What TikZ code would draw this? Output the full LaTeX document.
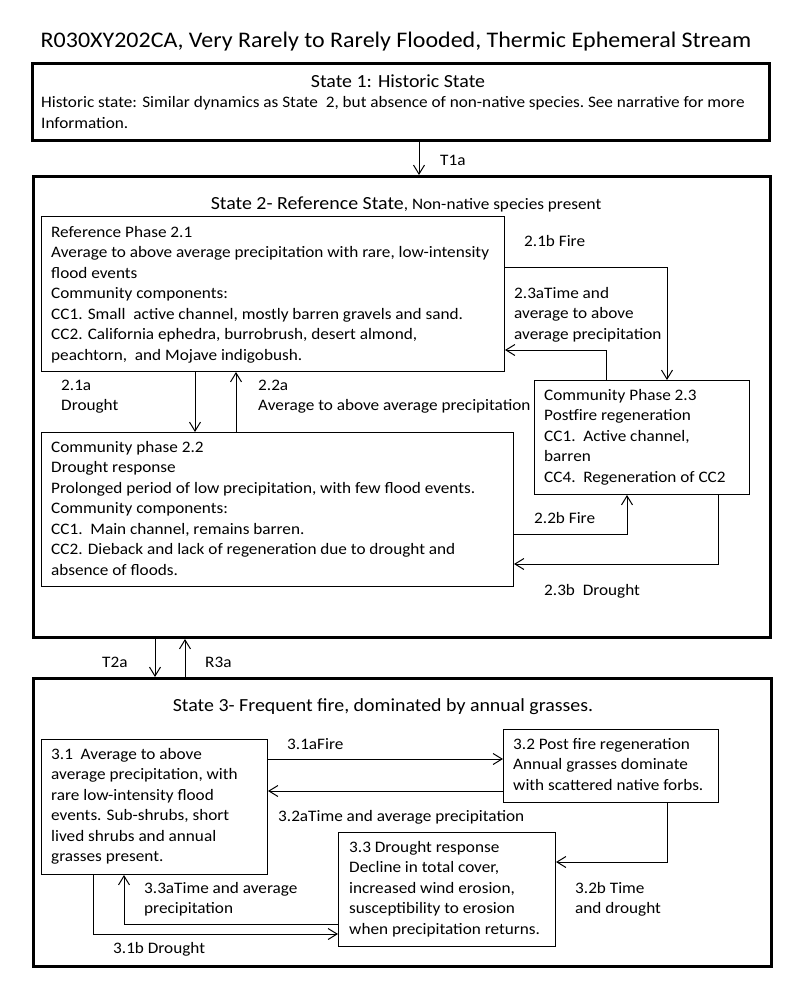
\documentclass[tikz,border=0pt]{standalone}
\usepackage{fontspec}
\setmainfont{Carlito}[FakeStretch=1.075]
\usetikzlibrary{arrows.meta}
\tikzset{
  sbox/.style={draw, line width=3pt, anchor=north west, inner sep=0pt},
  pbox/.style={draw, line width=1pt, anchor=north west, inner sep=0pt},
  txt/.style={inner sep=0pt, anchor=north west, align=left, font=\fontsize{16}{20.5}\selectfont},
  lbl/.style={inner sep=0pt, anchor=north west, align=left, font=\fontsize{16}{20.5}\selectfont},
  head/.style={inner sep=0pt, anchor=base, font=\fontsize{18.5}{22}\selectfont},
  arr/.style={line width=1pt, -{Straight Barb[length=9pt,width=11pt,line width=1pt]}},
}
\newcommand{\fs}{\strut}
\begin{document}
\begin{tikzpicture}[x=1pt,y=-1pt]
\useasboundingbox (0,0) rectangle (800,985);
% Title
\node[inner sep=0pt, anchor=base, font=\fontsize{22.3}{26}\selectfont] (title) at (396,47.5) {R030XY202CA, Very Rarely to Rarely Flooded, Thermic Ephemeral Stream};
% State boxes
\node[sbox, minimum width=737pt, minimum height=77pt] (s1) at (31,62) {};
\node[sbox, minimum width=737pt, minimum height=461pt] (s2) at (32,175) {};
\node[sbox, minimum width=738pt, minimum height=288pt] (s3) at (32,677) {};
% State 1 contents
\node[head] (s1h) at (398,87) {State 1: Historic State};
\node[txt] (s1t) at (41,{107.5-14.35}) {\fs Historic state: Similar dynamics as State\ \ 2, but absence of non-native species.\ See narrative for more\\Information.};
% State 2 heading
\node[inner sep=0pt, anchor=base] (s2h) at (406,209) {\fontsize{18.5}{22}\selectfont State 2- Reference State\fontsize{16}{20}\selectfont, Non-native species present};
% Phase boxes state 2
\node[pbox, minimum width=463pt, minimum height=155pt] (p21) at (41,216) {};
\node[pbox, minimum width=472pt, minimum height=154pt] (p22) at (41,432) {};
\node[pbox, minimum width=215pt, minimum height=114pt] (p23) at (534,380) {};
\node[txt] (p21t) at (51,{237-14.35}) {\fs Reference Phase 2.1\\Average to above average precipitation with rare, low-intensity\\flood events\\Community components:\\CC1. Small\ \ active channel, mostly barren gravels and sand.\\CC2. California ephedra, burrobrush, desert almond,\\peachtorn,\ \ and Mojave indigobush.};
\node[txt] (p22t) at (51,{452-14.35}) {\fs Community phase 2.2\\Drought response\\Prolonged period of low precipitation, with few flood events.\\Community components:\\CC1.\ \ Main channel, remains barren.\\CC2. Dieback and lack of regeneration due to drought and\\absence of floods.};
\node[txt] (p23t) at (544,{400-14.35}) {\fs Community Phase 2.3\\Postfire regeneration\\CC1.\ \ Active channel,\\barren\\CC4.\ \ Regeneration of CC2};
% State 2 labels
\node[lbl] (l21b) at (524,{246-14.35}) {\fs 2.1b Fire};
\node[lbl] (l23a) at (514,{298-14.35}) {\fs 2.3aTime and\\average to above\\average precipitation};
\node[lbl] (l21a) at (61,{390-14.35}) {\fs 2.1a\\Drought};
\node[lbl] (l22a) at (258,{390-14.35}) {\fs 2.2a\\Average to above average precipitation};
\node[lbl] (l22b) at (534,{523-14.35}) {\fs 2.2b Fire};
\node[lbl] (l23b) at (544,{595-14.35}) {\fs 2.3b\ \ Drought};
% Transition labels
\node[lbl] (lt1a) at (440,{165-14.35}) {\fs T1a};
\node[lbl] (lt2a) at (102,{667-14.35}) {\fs T2a};
\node[lbl] (lr3a) at (205,{667-14.35}) {\fs R3a};
% State 3
\node[head] (s3h) at (383,711) {State 3- Frequent fire, dominated by annual grasses.};
\node[pbox, minimum width=226pt, minimum height=135pt] (p31) at (41,739) {};
\node[pbox, minimum width=215pt, minimum height=73pt] (p32) at (503,729) {};
\node[pbox, minimum width=217pt, minimum height=114pt] (p33) at (338,832) {};
\node[txt] (p31t) at (51,{759-14.35}) {\fs 3.1\ \ Average to above\\average precipitation, with\\rare low-intensity flood\\events. Sub-shrubs, short\\lived shrubs and annual\\grasses present.};
\node[txt] (p32t) at (513,{749-14.35}) {\fs 3.2 Post fire regeneration\\Annual grasses dominate\\with scattered native forbs.};
\node[txt] (p33t) at (349,{852-14.35}) {\fs 3.3 Drought response\\Decline in total cover,\\increased wind erosion,\\susceptibility to erosion\\when precipitation returns.};
\node[lbl] (l31a) at (287,{749-14.35}) {\fs 3.1aFire};
\node[lbl] (l32a) at (278,{821-14.35}) {\fs 3.2aTime and average precipitation};
\node[lbl] (l32b) at (575,{893-14.35}) {\fs 3.2b Time\\and drought};
\node[lbl] (l33a) at (144,{893-14.35}) {\fs 3.3aTime and average\\precipitation};
\node[lbl] (l31b) at (113,{953-14.35}) {\fs 3.1b Drought};
% helper coordinates
\coordinate (xT1) at (419,0);
\coordinate (x21a) at (195,0);
\coordinate (x22a) at (236,0);
\coordinate (y21b) at (0,267);
\coordinate (x21b) at (667,0);
\coordinate (x23a) at (606,0);
\coordinate (y23a) at (0,350);
\coordinate (y22b) at (0,534);
\coordinate (x22b) at (627,0);
\coordinate (x23b) at (718,0);
\coordinate (y23b) at (0,564);
\coordinate (xT2) at (155,0);
\coordinate (xR3) at (185,0);
\coordinate (y31a) at (0,759);
\coordinate (y32a) at (0,791);
\coordinate (x32b) at (667,0);
\coordinate (y32b) at (0,862);
\coordinate (y33a) at (0,924);
\coordinate (x33a) at (124,0);
\coordinate (x31b) at (93,0);
\coordinate (y31b) at (0,934);
% connectors
\draw[arr] (s1.south -| xT1) -- (s2.north -| xT1);
\draw[arr] (p21.south -| x21a) -- (p22.north -| x21a);
\draw[arr] (p22.north -| x22a) -- (p21.south -| x22a);
\draw[arr] (p21.east |- y21b) -| (p23.north -| x21b);
\draw[arr] (p23.north -| x23a) |- (p21.east |- y23a);
\draw[arr] (p22.east |- y22b) -| (p23.south -| x22b);
\draw[arr] (p23.south -| x23b) |- (p22.east |- y23b);
\draw[arr] (s2.south -| xT2) -- (s3.north -| xT2);
\draw[arr] (s3.north -| xR3) -- (s2.south -| xR3);
\draw[arr] (p31.east |- y31a) -- (p32.west |- y31a);
\draw[arr] (p32.west |- y32a) -- (p31.east |- y32a);
\draw[arr] (p32.south -| x32b) |- (p33.east |- y32b);
\draw[arr] (p33.west |- y33a) -| (p31.south -| x33a);
\draw[arr] (p31.south -| x31b) |- (p33.west |- y31b);
\end{tikzpicture}
\end{document}
